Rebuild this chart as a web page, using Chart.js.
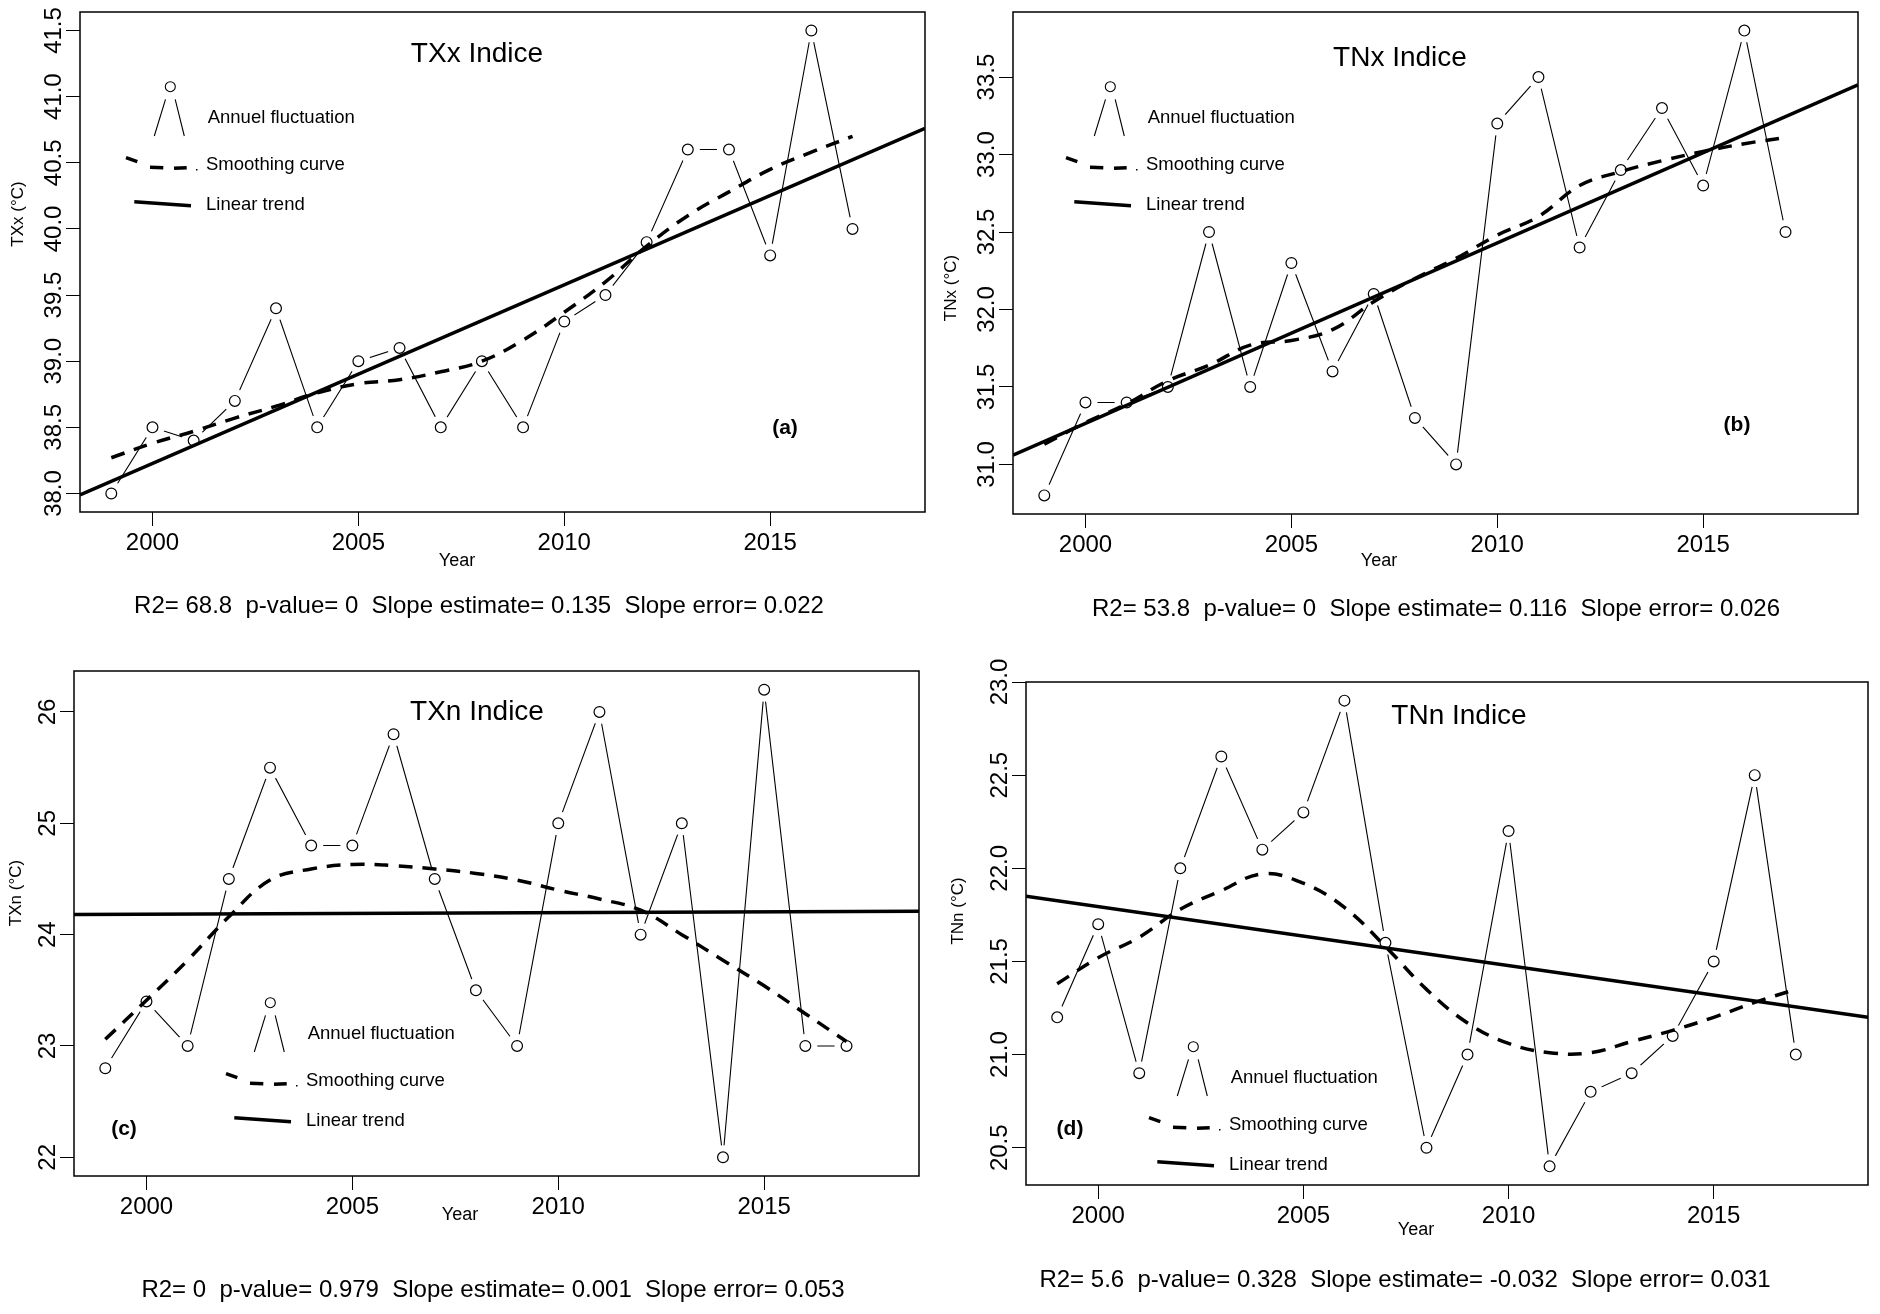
<!DOCTYPE html>
<html>
<head>
<meta charset="utf-8">
<script src="https://cdn.jsdelivr.net/npm/chart.js@4.4.1/dist/chart.umd.min.js"></script>
<style>
html, body { margin: 0; padding: 0; background: #fff; }
#wrap { position: relative; width: 1880px; height: 1314px; }
canvas { position: absolute; left: 0; top: 0; }
</style>
</head>
<body>
<div id="wrap">
<canvas id="chartA" width="1880" height="1314"></canvas>
<canvas id="chartB" width="1880" height="1314"></canvas>
<canvas id="chartC" width="1880" height="1314"></canvas>
<canvas id="chartD" width="1880" height="1314"></canvas>
</div>
<script>
// years of the series
var years = [1999, 2000, 2001, 2002, 2003, 2004, 2005, 2006, 2007, 2008, 2009, 2010, 2011, 2012, 2013, 2014, 2015, 2016, 2017];
// linear trend drawn across the whole x range
var trendYears = [1998.24, 2018.76];

// (a) TXx
var txxValues = [38.0, 38.5, 38.4, 38.7, 39.4, 38.5, 39.0, 39.1, 38.5, 39.0, 38.5, 39.3, 39.5, 39.9, 40.6, 40.6, 39.8, 41.5, 40.0];
var txxSmooth = [38.27, 38.38, 38.47, 38.57, 38.66, 38.76, 38.83, 38.86, 38.92, 39.0, 39.16, 39.37, 39.6, 39.87, 40.1, 40.28, 40.45, 40.58, 40.7];
var txxTrend = [37.99, 40.76];

// (b) TNx
var tnxValues = [30.8, 31.4, 31.4, 31.5, 32.5, 31.5, 32.3, 31.6, 32.1, 31.3, 31.0, 33.2, 33.5, 32.4, 32.9, 33.3, 32.8, 33.8, 32.5];
var tnxSmooth = [31.13, 31.27, 31.39, 31.54, 31.64, 31.77, 31.8, 31.87, 32.05, 32.2, 32.33, 32.48, 32.6, 32.8, 32.89, 32.96, 33.02, 33.07, 33.11];
var tnxTrend = [31.06, 33.45];

// (c) TXn
var txnValues = [22.8, 23.4, 23.0, 24.5, 25.5, 24.8, 24.8, 25.8, 24.5, 23.5, 23.0, 25.0, 26.0, 24.0, 25.0, 22.0, 26.2, 23.0, 23.0];
var txnSmooth = [23.06, 23.41, 23.77, 24.16, 24.49, 24.59, 24.63, 24.62, 24.59, 24.55, 24.49, 24.4, 24.32, 24.22, 24.0, 23.77, 23.54, 23.29, 23.04];
var txnTrend = [24.18, 24.21];

// (d) TNn
var tnnValues = [21.2, 21.7, 20.9, 22.0, 22.6, 22.1, 22.3, 22.9, 21.6, 20.5, 21.0, 22.2, 20.4, 20.8, 20.9, 21.1, 21.5, 22.5, 21.0];
var tnnSmooth = [21.38, 21.52, 21.63, 21.78, 21.88, 21.97, 21.92, 21.79, 21.58, 21.35, 21.17, 21.06, 21.01, 21.01, 21.07, 21.13, 21.2, 21.28, 21.35];
var tnnTrend = [21.85, 21.2];

var legendLabels = ['Annuel fluctuation', 'Smoothing curve', 'Linear trend'];
var FONT = '"Liberation Sans", Arial, sans-serif';

function pts(xs, ys) {
    return xs.map(function (x, i) { return { x: x, y: ys[i] }; });
}

// extra drawing: frame, tick labels, titles, legend, statistics
var panelPlugin = {
    id: 'panel',
    afterDraw: function (chart) {
        var p = chart.options.plugins.panel;
        var ctx = chart.ctx, a = chart.chartArea;
        var xs = chart.scales.x, ys = chart.scales.y;
        ctx.save();
        ctx.strokeStyle = '#000';
        ctx.lineWidth = 1.5;
        ctx.strokeRect(a.left, a.top, a.right - a.left, a.bottom - a.top);

        ctx.fillStyle = '#000';
        ctx.font = '24px ' + FONT;
        ctx.textAlign = 'center';
        ctx.textBaseline = 'alphabetic';
        xs.ticks.forEach(function (t) {
            ctx.fillText(String(t.value), xs.getPixelForValue(t.value), a.bottom + 38);
        });
        ys.ticks.forEach(function (t) {
            ctx.save();
            ctx.translate(a.left - 19.5, ys.getPixelForValue(t.value));
            ctx.rotate(-Math.PI / 2);
            ctx.fillText(t.value.toFixed(p.dec), 0, 0);
            ctx.restore();
        });

        // axis titles
        ctx.textBaseline = 'middle';
        ctx.font = '17px ' + FONT;
        ctx.save();
        ctx.translate(p.ylab[1], p.ylab[2]);
        ctx.rotate(-Math.PI / 2);
        ctx.fillText(p.ylab[0], 0, 0);
        ctx.restore();
        ctx.font = '18px ' + FONT;
        ctx.fillText('Year', p.year[0], p.year[1]);

        // title, stats, letter
        ctx.font = '28px ' + FONT;
        ctx.fillText(p.title[0], p.title[1], p.title[2]);
        ctx.font = '24px ' + FONT;
        ctx.fillText(p.stats[0], p.stats[1], p.stats[2]);
        ctx.font = 'bold 21px ' + FONT;
        ctx.fillText(p.letter[0], p.letter[1], p.letter[2]);

        // legend (hand drawn style)
        var ox = p.leg[0], oy = p.leg[1];
        ctx.lineWidth = 1.1;
        ctx.beginPath();
        ctx.arc(ox + 170.3, oy + 86.7, 5, 0, Math.PI * 2);
        ctx.moveTo(ox + 165.5, oy + 99.3); ctx.lineTo(ox + 154.3, oy + 136);
        ctx.moveTo(ox + 175.2, oy + 99.3); ctx.lineTo(ox + 184.3, oy + 136);
        ctx.stroke();
        ctx.lineWidth = 3.5;
        ctx.lineCap = 'butt';
        ctx.beginPath();
        ctx.moveTo(ox + 126, oy + 157.7); ctx.lineTo(ox + 137.3, oy + 161.7);
        ctx.moveTo(ox + 150, oy + 167.3); ctx.lineTo(ox + 163.3, oy + 167.7);
        ctx.moveTo(ox + 174, oy + 168.3); ctx.lineTo(ox + 186.7, oy + 167.7);
        ctx.moveTo(ox + 134.3, oy + 201.7); ctx.lineTo(ox + 191, oy + 205.7);
        ctx.stroke();
        ctx.fillRect(ox + 196, oy + 169, 1.5, 1.5);

        ctx.font = '18.5px ' + FONT;
        ctx.textAlign = 'left';
        ctx.textBaseline = 'alphabetic';
        ctx.fillText(legendLabels[0], ox + 207.7, oy + 123.3);
        ctx.fillText(legendLabels[1], ox + 206, oy + 170);
        ctx.fillText(legendLabels[2], ox + 206, oy + 210);
        ctx.restore();
    }
};

function makeChart(id, box, yr, step, values, smooth, trend, panel) {
    var yw = 60, xh = 60;
    new Chart(document.getElementById(id), {
        type: 'scatter',
        data: {
            datasets: [
                { data: pts(years, values), showLine: true, borderColor: '#000', borderWidth: 1.1, pointRadius: 0, order: 4 },
                { data: pts(years, values), showLine: false, pointRadius: 12, pointBorderWidth: 0, pointBackgroundColor: '#fff', pointBorderColor: '#fff', order: 3 },
                { data: pts(years, values), showLine: false, pointRadius: 5.4, pointBorderWidth: 1.2, pointBackgroundColor: '#fff', pointBorderColor: '#000', order: 2 },
                { data: pts(years, smooth), showLine: true, borderColor: '#000', borderWidth: 3.5, borderDash: [14, 10], tension: 0.4, pointRadius: 0, order: 1 },
                { data: pts(trendYears, trend), showLine: true, borderColor: '#000', borderWidth: 3.5, pointRadius: 0, order: 0 }
            ]
        },
        options: {
            responsive: false,
            animation: false,
            devicePixelRatio: 1,
            events: [],
            layout: { padding: { left: box[0] - yw, top: box[2], right: 1880 - box[1], bottom: 1314 - box[3] - xh } },
            scales: {
                x: {
                    type: 'linear', min: trendYears[0], max: trendYears[1],
                    ticks: { display: false, stepSize: 5, includeBounds: false },
                    grid: { display: true, drawOnChartArea: false, drawTicks: true, tickLength: 14, color: '#000', lineWidth: 1 },
                    border: { display: false },
                    afterFit: function (s) { s.height = xh; s.paddingLeft = 0; s.paddingRight = 0; }
                },
                y: {
                    min: yr[0], max: yr[1],
                    ticks: { display: false, stepSize: step, includeBounds: false },
                    grid: { display: true, drawOnChartArea: false, drawTicks: true, tickLength: 14, color: '#000', lineWidth: 1 },
                    border: { display: false },
                    afterFit: function (s) { s.width = yw; s.paddingTop = 0; s.paddingBottom = 0; }
                }
            },
            plugins: { legend: { display: false }, tooltip: { enabled: false }, panel: panel }
        },
        plugins: [panelPlugin]
    });
}

makeChart('chartA', [80, 925, 10, 512], [37.86, 41.64], 0.5, txxValues, txxSmooth, txxTrend, {
    dec: 1, ylab: ['TXx (°C)', 18, 214], year: [457, 561],
    title: ['TXx Indice', 477, 54], stats: ['R2= 68.8  p-value= 0  Slope estimate= 0.135  Slope error= 0.022', 479, 606],
    letter: ['(a)', 785, 428], leg: [0, 0]
});
makeChart('chartB', [1013, 1858, 10, 514], [30.68, 33.92], 0.5, tnxValues, tnxSmooth, tnxTrend, {
    dec: 1, ylab: ['TNx (°C)', 951, 288], year: [1379, 561],
    title: ['TNx Indice', 1400, 58], stats: ['R2= 53.8  p-value= 0  Slope estimate= 0.116  Slope error= 0.026', 1436, 609],
    letter: ['(b)', 1737, 425], leg: [940, 0]
});
makeChart('chartC', [74, 919, 671, 1176], [21.832, 26.368], 1, txnValues, txnSmooth, txnTrend, {
    dec: 0, ylab: ['TXn (°C)', 16, 893], year: [460, 1215],
    title: ['TXn Indice', 477, 712], stats: ['R2= 0  p-value= 0.979  Slope estimate= 0.001  Slope error= 0.053', 493, 1290],
    letter: ['(c)', 124, 1129], leg: [100, 916]
});
makeChart('chartD', [1026, 1870, 682, 1185], [20.3, 23.0], 0.5, tnnValues, tnnSmooth, tnnTrend, {
    dec: 1, ylab: ['TNn (°C)', 958, 911], year: [1416, 1230],
    title: ['TNn Indice', 1459, 716], stats: ['R2= 5.6  p-value= 0.328  Slope estimate= -0.032  Slope error= 0.031', 1405, 1280],
    letter: ['(d)', 1070, 1129], leg: [1023, 960]
});
</script>
</body>
</html>
